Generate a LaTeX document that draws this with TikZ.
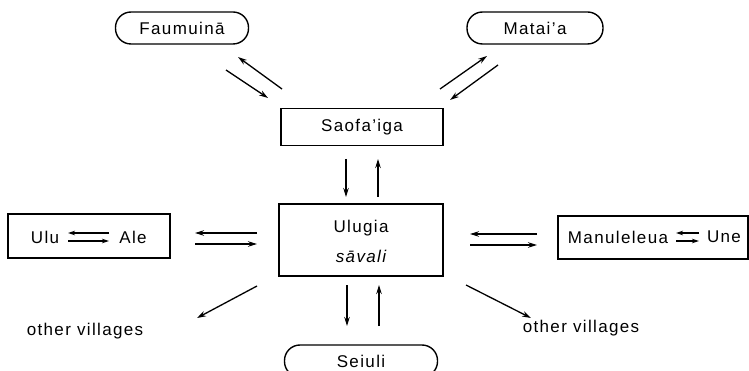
\documentclass[tikz,border=0pt]{standalone}
\usepackage{fontspec}
\setmainfont{Liberation Sans}[LetterSpace=8]
\usetikzlibrary{arrows.meta,fit}
\begin{document}
\begin{tikzpicture}[x=1pt,y=-1pt,
  lbl/.style={font=\fontsize{17}{19}\selectfont, inner sep=0pt},
  pill/.style={draw, line width=1.4pt, rounded corners=15.5pt, minimum height=32pt, font=\fontsize{17}{19}\selectfont},
  sqbox/.style={draw, line width=1.4pt, inner sep=0pt},
  arr/.style={line width=1.3pt, -{Stealth[length=9pt,width=5.5pt]}},
  sarr/.style={line width=1.2pt, -{Stealth[length=7pt,width=4.5pt]}}]
\useasboundingbox (0,0) rectangle (749,371);
% top pills
\node[pill, minimum width=133pt] (fau) at (182,28) {Faumuinā};
\node[pill, minimum width=136pt] (mat) at (535,28) {Matai’a};
\node[pill, minimum width=153pt] (sei) at (361,361) {Seiuli};
% central boxes
\node[sqbox, minimum width=162pt, minimum height=37pt, lbl] (sao) at (362,127) {Saofa’iga};
\node[sqbox, minimum width=164pt, minimum height=72pt] (ulg) at (361,240) {};
\node[lbl] (ulgA) at (361,228) {Ulugia};
\node[lbl] (ulgB) at (361,256) {\itshape sāvali};
% Ulu Ale box
\node[lbl] (ulu) at (45,237) {Ulu};
\node[lbl] (ale) at (133,237) {Ale};
\coordinate (ua1) at (68,233); \coordinate (ua2) at (109,233);
\coordinate (ua3) at (68,241); \coordinate (ua4) at (109,241);
\draw[sarr] (ua2) -- (ua1);
\draw[sarr] (ua3) -- (ua4);
\coordinate (ubl) at (8,214); \coordinate (ubr) at (170,258);
\node[sqbox, fit=(ubl)(ubr)] (ulubox) {};
% Manuleleua Une box
\node[lbl] (man) at (618,237) {Manuleleua};
\node[lbl] (une) at (724,237) {Une};
\coordinate (mu1) at (676,233); \coordinate (mu2) at (699,233);
\coordinate (mu3) at (676,241); \coordinate (mu4) at (699,241);
\draw[sarr] (mu2) -- (mu1);
\draw[sarr] (mu3) -- (mu4);
\coordinate (mbl) at (558,216); \coordinate (mbr) at (748,259);
\node[sqbox, fit=(mbl)(mbr)] (manbox) {};
% other villages
\node[lbl] (ovl) at (85,331) {other villages};
\node[lbl] (ovr) at (581,328) {other villages};
% Faumuina arrows
\coordinate (f1) at (282,89); \coordinate (f2) at (238,57);
\coordinate (f3) at (226,70); \coordinate (f4) at (268,98);
\draw[arr] (f1) -- (f2);
\draw[arr] (f3) -- (f4);
% Mataia arrows
\coordinate (m1) at (440,89); \coordinate (m2) at (487,56);
\coordinate (m3) at (498,65); \coordinate (m4) at (450,100);
\draw[arr] (m1) -- (m2);
\draw[arr] (m3) -- (m4);
% Saofa'iga - Ulugia
\coordinate (s1) at (346,159); \coordinate (s2) at (346,197);
\coordinate (s3) at (378,197); \coordinate (s4) at (378,159);
\draw[arr] (s1) -- (s2);
\draw[arr] (s3) -- (s4);
% Ulugia - Seiuli
\coordinate (e1) at (347,285); \coordinate (e2) at (347,326);
\coordinate (e3) at (379,326); \coordinate (e4) at (379,285);
\draw[arr] (e1) -- (e2);
\draw[arr] (e3) -- (e4);
% left horizontals
\coordinate (l1) at (257,233); \coordinate (l2) at (195,233);
\coordinate (l3) at (195,244); \coordinate (l4) at (257,244);
\draw[arr] (l1) -- (l2);
\draw[arr] (l3) -- (l4);
% right horizontals
\coordinate (r1) at (537,234); \coordinate (r2) at (470,234);
\coordinate (r3) at (470,245); \coordinate (r4) at (537,245);
\draw[arr] (r1) -- (r2);
\draw[arr] (r3) -- (r4);
% diagonals to other villages
\coordinate (d1) at (257,286); \coordinate (d2) at (197,318);
\coordinate (d3) at (466,285); \coordinate (d4) at (531,318);
\draw[arr] (d1) -- (d2);
\draw[arr] (d3) -- (d4);
\end{tikzpicture}
\end{document}
